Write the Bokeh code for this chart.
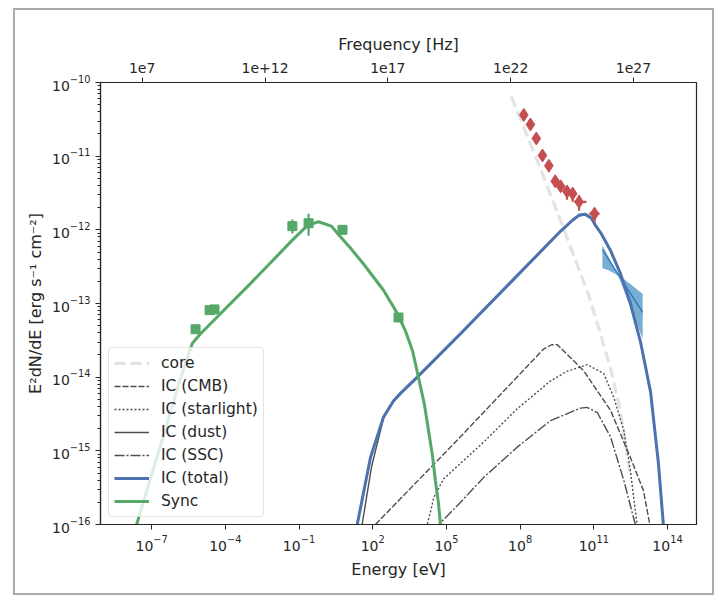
import numpy as np
from bokeh.plotting import figure
from bokeh.models import (Range1d, LogScale, LogAxis, FixedTicker, CustomJSTickFormatter,
                          Legend, LegendItem)
from bokeh.embed import file_html
from bokeh.resources import INLINE

# ---------------- data (log10 of energy [eV] and of E^2 dN/dE [erg s^-1 cm^-2]) -------------
H_EV_S = 4.135667696e-15  # Planck constant, eV s

x_log_lim = [-9.08, 15.18]
y_lim = [1e-16, 1e-10]

x_ticks = [1e-7, 1e-4, 1e-1, 1e2, 1e5, 1e8, 1e11, 1e14]
y_ticks = [1e-16, 1e-15, 1e-14, 1e-13, 1e-12, 1e-11, 1e-10]
freq_ticks = [1e7, 1e12, 1e17, 1e22, 1e27]
freq_tick_labels = ["1e7", "1e+12", "1e17", "1e22", "1e27"]

# model curves
core_logE = [7.64, 8.71, 9.76, 10.78, 11.27, 11.68, 12.08, 12.49]
core_logF = [-10.19, -11.07, -11.97, -12.88, -13.41, -13.88, -14.45, -15.36]

cmb_logE = [2.00, 2.11, 5.57, 8.95, 9.28, 9.52, 9.85, 10.58, 11.68, 12.49, 13.02, 13.28, 13.32]
cmb_logF = [-16.1, -16.0, -14.81, -13.62, -13.56, -13.56, -13.67, -13.91, -14.45, -15.09, -15.54, -16.0, -16.1]

star_logE = [4.18, 4.22, 4.35, 4.49, 4.89, 6.52, 7.88, 9.24, 9.91, 10.73, 11.40, 11.81, 12.22, 12.49, 12.76, 12.79]
star_logF = [-16.1, -16.0, -15.83, -15.63, -15.38, -14.88, -14.43, -14.05, -13.92, -13.83, -13.95, -14.27, -14.72, -15.27, -16.0, -16.1]

dust_logE = [1.52, 1.57, 1.95, 2.44, 2.85, 3.13, 3.81, 5.69, 9.64, 10.13, 10.40, 10.66, 10.90, 11.07, 11.30, 11.68, 12.08, 12.49, 12.90, 13.31, 13.63, 13.83, 13.86]
dust_logF = [-16.1, -16.0, -15.22, -14.56, -14.33, -14.23, -14.01, -13.38, -12.03, -11.88, -11.81, -11.80, -11.85, -11.95, -12.06, -12.29, -12.60, -13.01, -13.53, -14.21, -15.18, -16.0, -16.1]

ssc_logE = [4.64, 4.69, 5.57, 6.52, 7.88, 9.24, 10.46, 10.73, 11.14, 11.68, 12.22, 12.69, 12.72]
ssc_logF = [-16.1, -16.0, -15.70, -15.36, -14.95, -14.59, -14.42, -14.41, -14.48, -14.81, -15.40, -16.0, -16.1]

ic_logE = [1.32, 1.37, 1.91, 2.44, 2.85, 3.13, 3.81, 5.69, 9.64, 10.13, 10.40, 10.66, 10.90, 11.07, 11.30, 11.68, 12.08, 12.49, 12.90, 13.31, 13.63, 13.83, 13.86]
ic_logF = [-16.1, -16.0, -15.09, -14.54, -14.32, -14.22, -14.00, -13.37, -12.02, -11.87, -11.80, -11.79, -11.84, -11.94, -12.05, -12.28, -12.59, -13.00, -13.52, -14.20, -15.17, -16.0, -16.1]

sync_logE = [-7.66, -7.61, -7.05, -6.43, -5.91, -5.58, -5.34, -5.01, -2.98, -1.27, -0.65, -0.21,
             0.32, 0.57, 1.10, 1.62, 2.44, 3.01, 3.33, 3.62, 3.86, 4.11, 4.27, 4.43, 4.55, 4.68, 4.76, 4.79]
sync_logF = [-16.1, -16.0, -15.38, -14.70, -14.11, -13.77, -13.54, -13.41, -12.73, -12.14, -11.94, -11.89,
             -11.95, -12.05, -12.25, -12.46, -12.82, -13.14, -13.37, -13.64, -14.00, -14.38, -14.72, -15.06,
             -15.40, -15.72, -16.0, -16.1]

# synchrotron data points (radio / optical / X-ray)
sync_data_logE = [-5.21, -4.64, -4.44, -1.27, -0.61, 0.77, 3.05]
sync_data_logF = [-13.35, -13.09, -13.08, -11.95, -11.91, -12.00, -13.19]
sync_data_err_up = [0.0, 0.0, 0.0, 0.09, 0.13, 0.0, 0.0]
sync_data_err_dn = [0.0, 0.0, 0.0, 0.10, 0.17, 0.0, 0.0]

# gamma-ray data points
gam_logE = [8.15, 8.42, 8.66, 8.91, 9.17, 9.43, 9.65, 9.91, 10.14, 10.40, 11.03]
gam_logF = [-10.44, -10.57, -10.76, -10.99, -11.13, -11.34, -11.41, -11.48, -11.51, -11.62, -11.78]
gam_err_up = [0.0, 0.0, 0.0, 0.0, 0.0, 0.0, 0.0, 0.07, 0.08, 0.09, 0.08]
gam_err_dn = [0.0, 0.0, 0.0, 0.0, 0.0, 0.0, 0.0, 0.11, 0.11, 0.12, 0.12]
gam_xerr_lo = [0.0, 0.0, 0.0, 0.0, 0.0, 0.0, 0.0, 0.0, 0.0, 0.19, 0.21]
gam_xerr_hi = [0.0, 0.0, 0.0, 0.0, 0.0, 0.0, 0.0, 0.0, 0.0, 0.30, 0.20]

# high-energy butterfly
bt_logE = [11.35, 11.60, 11.88, 12.00, 12.50, 12.99]
bt_up_logF = [-12.21, -12.37, -12.54, -12.61, -12.74, -12.87]
bt_lo_logF = [-12.52, -12.55, -12.60, -12.63, -13.06, -13.48]
bt_fit_logE = [11.35, 12.99]
bt_fit_logF = [-12.27, -13.12]

# ---------------- colours ----------------
C_BLUE = "#4C72B0"
C_GREEN = "#55A868"
C_RED = "#C44E52"
C_GRAY = "#4d4d4d"
C_CORE = "#e3e3e3"
C_BFLY = "#1f77b4"
C_TXT = "#262626"
FONT = "DejaVu Sans"


def P(a):
    return 10.0 ** np.asarray(a, dtype=float)


x_lo, x_hi = 10 ** x_log_lim[0], 10 ** x_log_lim[1]

p = figure(width=697, height=583, x_axis_type="log", y_axis_type="log",
           x_range=Range1d(x_lo, x_hi), y_range=Range1d(*y_lim),
           output_backend="svg", toolbar_location=None,
           min_border_left=85, min_border_right=16, min_border_top=72, min_border_bottom=69,
           x_axis_label="Energy [eV]",
           y_axis_label="E\u00b2dN/dE [erg s\u207b\u00b9 cm\u207b\u00b2]")
p.margin = (10, 0, 0, 15)
p.styles = {"outline": "2px solid #ababab", "outline-offset": "0px"}
p.grid.visible = False
p.outline_line_color = C_TXT
p.outline_line_alpha = 1.0
p.outline_line_width = 1.2
p.background_fill_color = "white"
p.border_fill_color = "white"

# axes
bottom_axis = p.below[0]
left_axis = p.left[0]
bottom_axis.ticker = FixedTicker(ticks=x_ticks, minor_ticks=[])
y_minor = [k * t for t in y_ticks[:-1] for k in range(2, 10)]
left_axis.ticker = FixedTicker(ticks=y_ticks, minor_ticks=y_minor)

p.extra_x_ranges = {"freq": Range1d(x_lo / H_EV_S, x_hi / H_EV_S)}
p.extra_x_scales = {"freq": LogScale()}
top_axis = LogAxis(x_range_name="freq", axis_label="Frequency [Hz]",
                   ticker=FixedTicker(ticks=freq_ticks, minor_ticks=[]),
                   formatter=CustomJSTickFormatter(args=dict(vals=freq_ticks, labs=freq_tick_labels), code="""
const i = vals.findIndex(v => Math.abs(Math.log10(v) - Math.log10(tick)) < 1e-6);
return i >= 0 ? labs[i] : "";
"""))
p.add_layout(top_axis, "above")

for ax in [bottom_axis, left_axis, top_axis]:
    ax.axis_line_color = C_TXT
    ax.axis_line_width = 1.2
    ax.major_tick_line_color = C_TXT
    ax.minor_tick_line_color = C_TXT
    ax.major_tick_out = 5
    ax.major_tick_in = 0
    ax.minor_tick_out = 3
    ax.minor_tick_in = 0
    ax.major_label_text_font = FONT
    ax.major_label_text_font_size = "14px"
    ax.major_label_text_color = C_TXT
    ax.axis_label_text_font = FONT
    ax.axis_label_text_font_size = "16px"
    ax.axis_label_text_font_style = "normal"
    ax.axis_label_text_color = C_TXT
    ax.major_label_standoff = 5
    ax.axis_label_standoff = 6
left_axis.axis_label_standoff = 4

# ---------------- glyphs ----------------
r_core = p.line(P(core_logE), P(core_logF), line_color=C_CORE, line_width=3.2, line_dash="11 5")

p.patch(np.concatenate([P(bt_logE), P(bt_logE)[::-1]]),
        np.concatenate([P(bt_up_logF), P(bt_lo_logF)[::-1]]),
        fill_color=C_BFLY, fill_alpha=0.6, line_color=None)
p.line(P(bt_fit_logE), P(bt_fit_logF), line_color=C_BFLY, line_width=1.2)

r_cmb = p.line(P(cmb_logE), P(cmb_logF), line_color=C_GRAY, line_width=1.4, line_dash="6 2")
r_star = p.line(P(star_logE), P(star_logF), line_color=C_GRAY, line_width=1.4, line_dash="2 2")
r_dust = p.line(P(dust_logE), P(dust_logF), line_color=C_GRAY, line_width=1.4)
r_ssc = p.line(P(ssc_logE), P(ssc_logF), line_color=C_GRAY, line_width=1.4, line_dash="10 2 2 2")
r_ic = p.line(P(ic_logE), P(ic_logF), line_color=C_BLUE, line_width=3)
r_sync = p.line(P(sync_logE), P(sync_logF), line_color=C_GREEN, line_width=3)

# synchrotron data
sx = P(sync_data_logE)
sy = P(sync_data_logF)
p.segment(sx, 10 ** (np.array(sync_data_logF) - np.array(sync_data_err_dn)),
          sx, 10 ** (np.array(sync_data_logF) + np.array(sync_data_err_up)),
          line_color=C_GREEN, line_width=2.2)
p.scatter(sx, sy, marker="square", size=9, fill_color=C_GREEN, line_color=C_GREEN)

# gamma-ray data
gx = P(gam_logE)
gy = P(gam_logF)
p.segment(gx, 10 ** (np.array(gam_logF) - np.array(gam_err_dn)),
          gx, 10 ** (np.array(gam_logF) + np.array(gam_err_up)),
          line_color=C_RED, line_width=2.2)
p.segment(10 ** (np.array(gam_logE) - np.array(gam_xerr_lo)), gy,
          10 ** (np.array(gam_logE) + np.array(gam_xerr_hi)), gy,
          line_color=C_RED, line_width=2.2)
p.scatter(gx, gy, marker="diamond", size=13, fill_color=C_RED, line_color=C_RED)

# ---------------- legend ----------------
legend = Legend(items=[
    LegendItem(label="core", renderers=[r_core]),
    LegendItem(label="IC (CMB)", renderers=[r_cmb]),
    LegendItem(label="IC (starlight)", renderers=[r_star]),
    LegendItem(label="IC (dust)", renderers=[r_dust]),
    LegendItem(label="IC (SSC)", renderers=[r_ssc]),
    LegendItem(label="IC (total)", renderers=[r_ic]),
    LegendItem(label="Sync", renderers=[r_sync]),
], location=(8, 7))
legend.margin = 0
legend.padding = 5
legend.spacing = 3
legend.glyph_width = 35
legend.glyph_height = 20
legend.label_height = 20
legend.label_standoff = 12
legend.label_text_font = FONT
legend.label_text_font_size = "15.5px"
legend.label_text_color = C_TXT
legend.border_line_color = "#cccccc"
legend.border_line_width = 1
legend.background_fill_color = "white"
legend.background_fill_alpha = 0.8
if "border_radius" in legend.properties():
    legend.border_radius = 4
p.add_layout(legend, "center")

open("out.html", "w").write(file_html(p, INLINE))
